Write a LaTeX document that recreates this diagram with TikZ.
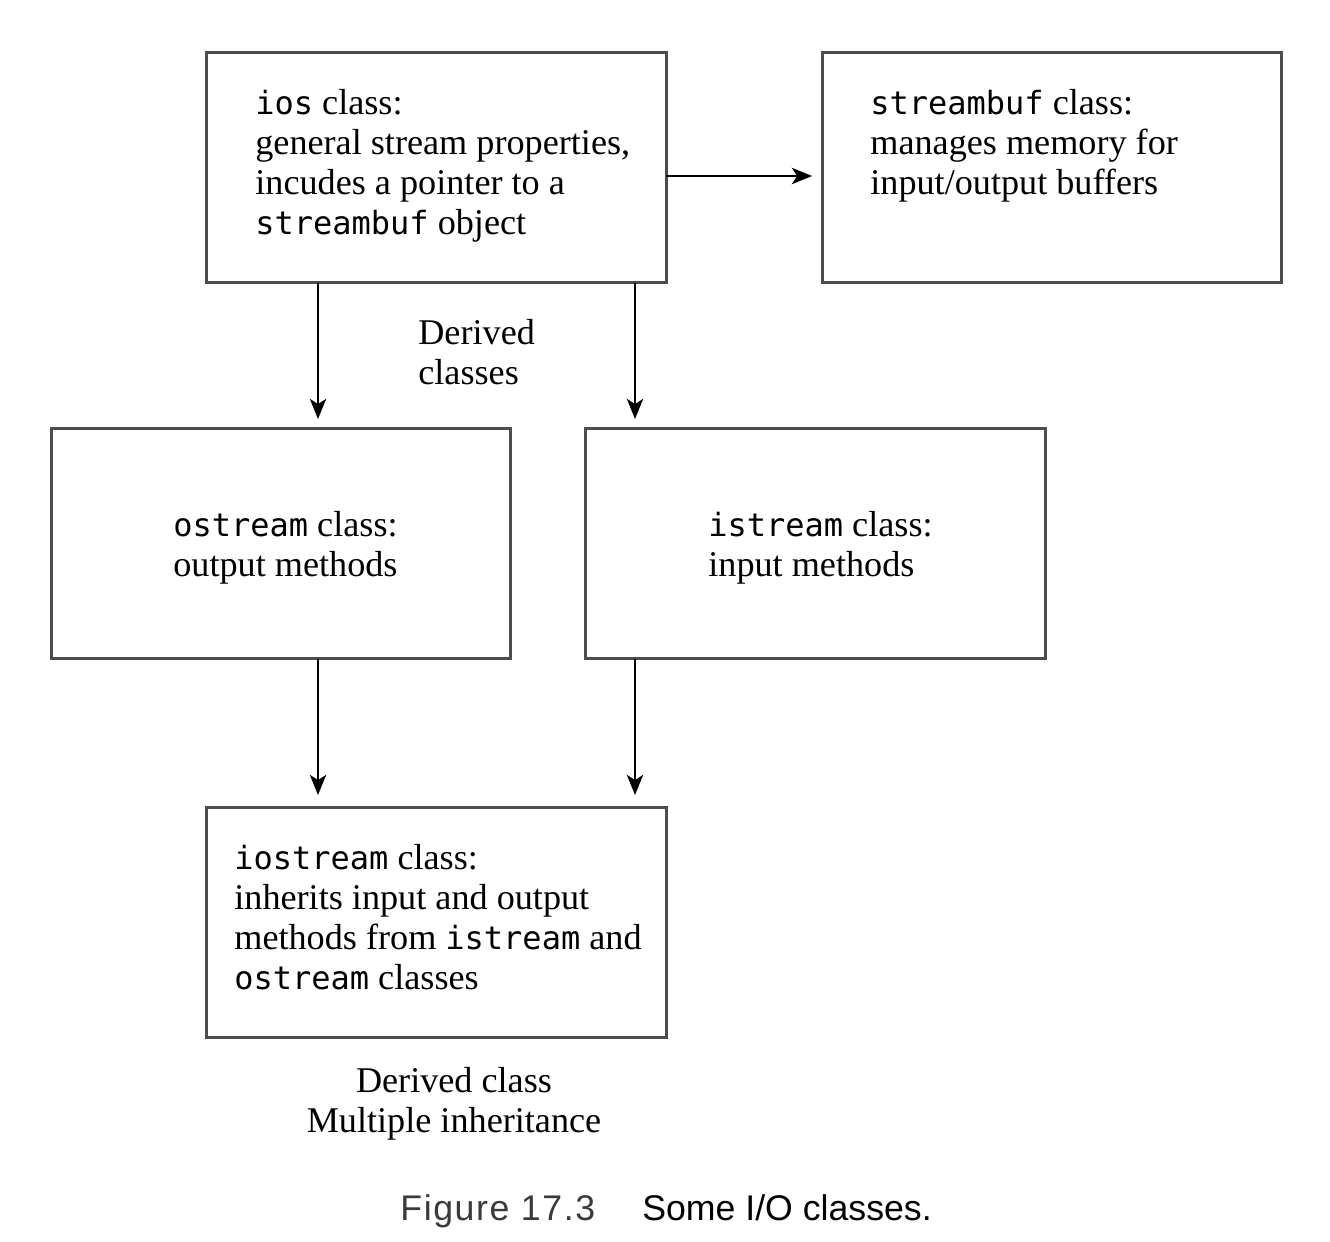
\documentclass[tikz,border=0pt]{standalone}
\usepackage{fontspec}
\setmainfont{Liberation Serif}
\newfontfamily\cd{DejaVu Sans Mono}[Scale=0.884]
\newfontfamily\capf{Liberation Sans}
\newfontfamily\capfw{Liberation Sans}[LetterSpace=4.5]
\usetikzlibrary{arrows.meta}
\definecolor{boxgray}{HTML}{4D4D4D}
\definecolor{capgray}{HTML}{3A3A3A}
\begin{document}
\begin{tikzpicture}[x=0.02cm,y=-0.02cm,
  classbox/.style={draw=boxgray,line width=1.7pt,minimum width=9.2cm,minimum height=4.62cm,inner sep=0pt,outer sep=0pt},
  txt/.style={anchor=base west,align=left,inner sep=0pt,font=\fontsize{20.6}{22.76}\selectfont},
  ctxt/.style={anchor=base,align=center,inner sep=0pt,font=\fontsize{20.6}{22.76}\selectfont},
  conn/.style={line width=1.1pt,-{Stealth[length=11.5pt,width=9.3pt,inset=3pt]}}]
\useasboundingbox (0,0) rectangle (1330,1242);
\node[classbox] (ios) at (436.5,167.5) {};
\node[classbox] (sbuf) at (1052,167.5) {};
\node[classbox] (ost) at (281,543.5) {};
\node[classbox] (ist) at (815.5,543.5) {};
\node[classbox] (iost) at (436.5,922.5) {};
\node[txt] (iostxt) at (255,234) {{\cd ios} class:\\general stream properties,\\incudes a pointer to a\\{\cd streambuf} object};
\node[txt] (sbuftxt) at (870,194) {{\cd streambuf} class:\\manages memory for\\input/output buffers};
\node[txt] (osttxt) at (173,576) {{\cd ostream} class:\\output methods};
\node[txt] (isttxt) at (708,576) {{\cd istream} class:\\input methods};
\node[txt] (iosttxt) at (234,989) {{\cd iostream} class:\\inherits input and output\\methods from {\cd istream} and\\{\cd ostream} classes};
\node[txt] (derived) at (418,384) {Derived\\classes};
\node[ctxt] (derived2) at (454,1132) {Derived class\\Multiple inheritance};
\node[anchor=base west,inner sep=0pt,font=\capfw\fontsize{20.3}{24}\selectfont,text=capgray] (capnum) at (400,1220) {Figure 17.3};
\node[anchor=base west,inner sep=0pt,font=\capf\fontsize{20.3}{24}\selectfont] (captxt) at (642,1220) {Some I/O classes.};
\coordinate (a1) at (318,283);
\coordinate (a2) at (635,283);
\coordinate (b1) at (318,659);
\coordinate (b2) at (635,659);
\draw[conn,shorten >=0.2cm] (ios.east |- 0,176) -- (sbuf.west |- 0,176);
\draw[conn,shorten >=0.18cm] (a1) -- (a1 |- ost.north);
\draw[conn,shorten >=0.18cm] (a2) -- (a2 |- ist.north);
\draw[conn,shorten >=0.24cm] (b1) -- (b1 |- iost.north);
\draw[conn,shorten >=0.24cm] (b2) -- (b2 |- iost.north);
\end{tikzpicture}
\end{document}
